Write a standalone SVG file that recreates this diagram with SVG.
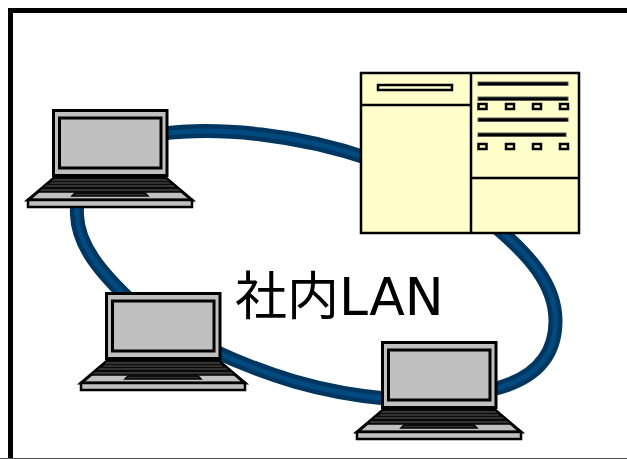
<svg xmlns="http://www.w3.org/2000/svg" width="627" height="459" viewBox="0 0 627 459">
<style>
.g{fill:#c0c0c0;stroke:#000;stroke-width:3}
.y{fill:#ffffcc;stroke:#000;stroke-width:2.500}
.b{fill:none;stroke:#000;stroke-width:2.500}
.r{fill:none;stroke-linecap:butt}
.o{stroke:#003660;stroke-width:14}
.i{stroke:#004a80;stroke-width:5}
.h{fill:#333;stroke:#000;stroke-width:1.500}
.t{font-family:"DejaVu Sans","Noto Sans CJK JP",sans-serif;font-size:52px;fill:#000}
</style>
<defs>
<path id="ring" d="M160 134C220 126 300 135 370 159M490 222C530 255 556 285 555.500 322C555 360 530 381 490 390M390 399C320 393 265 375 210 349M132 302C100 272 78 245 77 215C76 200 80 190 87 176"/>
<g id="lap">
<rect class="g" x="53.500" y="110.500" width="113.500" height="65"/>
<rect class="g" x="59.500" y="118" width="101.500" height="50"/>
<path class="g" d="M54 178H166L192 200H28Z"/>
<path class="h" d="M54 178H166L171 182H49Z"/>
<path class="h" d="M47 184H173L178 188H42Z"/>
<path class="h" d="M42 188H178L182 192H38Z"/>
<path class="h" d="M75 193H145L148 196H72Z"/>
<rect x="28" y="200" width="164" height="7" fill="#c0c0c0" stroke="#000" stroke-width="2.500"/>
</g>
</defs>
<rect x="10.500" y="10.500" width="630" height="460" fill="#fff" stroke="#000" stroke-width="5"/>
<path d="M0 458.500H627" stroke="#555" stroke-width="1"/>
<g id="connectors">
<use href="#ring" class="r o"/>
<use href="#ring" class="r i"/>
</g>
<g id="laptop-1"><use href="#lap"/></g>
<g id="laptop-2"><use href="#lap" transform="translate(53,183)"/></g>
<g id="laptop-3"><use href="#lap" transform="translate(329,232)"/></g>
<g id="server">
<rect class="y" x="361" y="73" width="218" height="160"/>
<path class="b" d="M471 73V233M361 105H471M471 178H579"/>
<rect class="y" x="378" y="85" width="74" height="5"/>
<g fill="#000" stroke="#555" stroke-width="1">
<rect x="478" y="82" width="90" height="3.500"/>
<rect x="478" y="97" width="90" height="3.500"/>
<rect x="478" y="118" width="90" height="3.500"/>
<rect x="478" y="133" width="88" height="3.500"/>
</g>
<rect class="y" x="478.500" y="104" width="8" height="5"/><rect class="y" x="506" y="104" width="8" height="5"/><rect class="y" x="533" y="104" width="8" height="5"/><rect class="y" x="560" y="104" width="8" height="5"/>
<rect class="y" x="478.500" y="144" width="8" height="5"/><rect class="y" x="506" y="144" width="8" height="5"/><rect class="y" x="533" y="144" width="8" height="5"/><rect class="y" x="560" y="144" width="8" height="5"/>
</g>
<text id="label" class="t" x="235" y="315">社内LAN</text>
</svg>
